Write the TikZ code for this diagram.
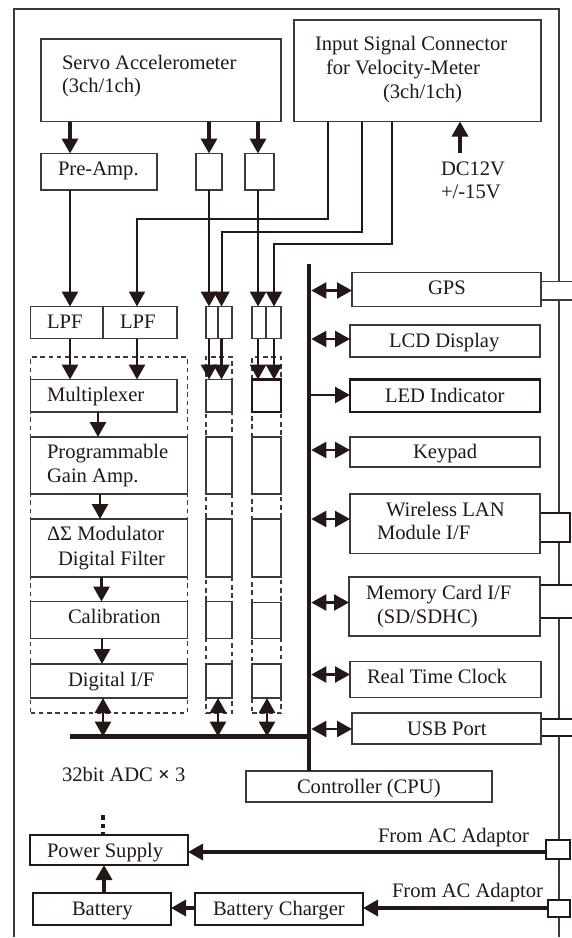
\documentclass[tikz,border=0pt]{standalone}
\usepackage{fontspec}
\setmainfont{Liberation Serif}
\usetikzlibrary{arrows.meta}
\definecolor{ink}{HTML}{231815}
\definecolor{frm}{HTML}{3E3A39}
\tikzset{
  bx/.style={draw=frm,fill=white,line width=1.5pt,inner sep=0pt,outer sep=0pt},
  thickbx/.style={bx,draw=ink,line width=2.1pt},
  dashbx/.style={bx,fill=none,line width=1.2pt,dash pattern=on 4.5pt off 3.8pt,draw=frm},
  lbl/.style={anchor=base west,inner sep=0pt,outer sep=0pt,text=ink,font=\fontsize{20.6}{24}\selectfont},
  arr/.style={draw=ink,line width=3.4pt,-{Triangle[length=15pt,width=16pt,fill=ink]}},
  arrthin/.style={draw=ink,line width=2.8pt,-{Triangle[length=15pt,width=16pt,fill=ink]}},
  sig/.style={draw=ink,line width=2pt,-{Triangle[length=15pt,width=16pt,fill=ink]}},
  dbl/.style={draw=ink,line width=2.4pt,{Triangle[length=15pt,width=16pt,fill=ink]}-{Triangle[length=15pt,width=16pt,fill=ink]}},
  dblv/.style={draw=ink,line width=2.8pt,{Triangle[length=15pt,width=16pt,fill=ink]}-{Triangle[length=15pt,width=16pt,fill=ink]}},
  bus/.style={draw=ink,line width=4.8pt},
}
\newcommand{\bxn}[6][bx]{%
  \pgfmathsetmacro{\bw}{#5-#3}\pgfmathsetmacro{\bh}{#6-#4}%
  \node[#1,minimum width=\bw pt,minimum height=\bh pt] (#2) at ({(#3+#5)/2},{(#4+#6)/2}) {};}
\newcommand{\tx}[4]{\node[lbl] (#1) at (#2,#3) {#4};}
\newcommand{\cx}[2]{\coordinate (#1) at (#2,0);}
\newcommand{\cy}[2]{\coordinate (#1) at (0,#2);}
\begin{document}
\begin{tikzpicture}[x=1pt,y=-1pt]
\useasboundingbox (0,0) rectangle (571,938);
\fill[white] (0,0) rectangle (571,938);
% enclosure
\coordinate (fbl) at (14,937);
\coordinate (ftl) at (14,8.5);
\coordinate (ftr) at (558.5,8.5);
\coordinate (fbr) at (558.5,937);
\draw[draw=frm,line width=2pt] (fbl) -- (ftl) -- (ftr) -- (fbr);
% column references
\cx{cA}{70}\cx{cB}{137}\cx{cC}{209}\cx{cD}{221.5}\cx{cE}{258}\cx{cF}{274}
\cx{cG}{328}\cx{cH}{362}\cx{cI}{392}\cx{cJ}{460}
\cx{cK}{98}\cx{cL}{100}\cx{cM}{101.5}\cx{cN}{102}\cx{cO}{103}\cx{cP}{218}\cx{cQ}{267}\cx{cR}{104}
\cy{rA}{219}\cy{rB}{232}\cy{rC}{244}
\cy{rGPS}{290.5}\cy{rLCD}{339}\cy{rLED}{395}\cy{rKEY}{450}\cy{rWL}{519}\cy{rMEM}{602.5}\cy{rRTC}{674.5}\cy{rUSB}{729}
\cy{rAC}{852}\cy{rCH}{908}
\coordinate (dcIn) at (460,153);
% dashed ADC groups
\bxn[dashbx]{adcA}{30.5}{357}{187.5}{713}
\bxn[dashbx]{adcB}{206}{357}{232}{713}
\bxn[dashbx]{adcC}{252}{357}{281}{713}
% input blocks
\bxn{servo}{41}{39}{281}{121.5}
\bxn{input}{294}{20}{541}{121.5}
\bxn{preamp}{41}{153.5}{157}{190}
\bxn{preB}{196}{153.5}{222}{190}
\bxn{preC}{245}{153.5}{274}{190}
% LPFs
\bxn{lpfA}{30.5}{306.5}{103}{338.5}
\bxn{lpfB}{103}{306.5}{177}{338.5}
\bxn{lpfC}{206}{306.5}{218}{338.5}
\bxn{lpfD}{218}{306.5}{232}{338.5}
\bxn{lpfE}{252}{306.5}{266}{338.5}
\bxn{lpfF}{266}{306.5}{281}{338.5}
% ADC stages
\bxn{mux}{30.5}{379.5}{177}{412}
\bxn{pga}{30.5}{437}{187.5}{494}
\bxn{mod}{30.5}{519}{187.5}{577}
\bxn{cal}{30.5}{601.5}{187.5}{638.5}
\bxn{dif}{30.5}{664}{187.5}{698}
\bxn{muxB}{206}{379.5}{232}{412}
\bxn{pgaB}{206}{437}{232}{494}
\bxn{modB}{206}{519}{232}{577}
\bxn{calB}{206}{601.5}{232}{638.5}
\bxn{difB}{206}{664}{232}{698}
\bxn[thickbx]{muxC}{252}{379.5}{281}{412}
\bxn{pgaC}{252}{437}{281}{494}
\bxn{modC}{252}{519}{281}{577}
\bxn{calC}{252}{602.5}{281}{638.5}
\bxn{difC}{252}{664}{281}{698}
% controller, peripherals
\bxn{cpu}{246}{771}{492}{802}
\bxn{gpsC}{541}{281.5}{574}{300}
\bxn{gps}{352}{272.5}{541}{306.5}
\bxn{lcd}{350}{325}{540}{357}
\bxn[thickbx]{led}{350}{379.5}{540}{412}
\bxn{key}{350}{437}{540}{467}
\bxn[thickbx]{wlC}{540}{513}{570}{542}
\bxn{wl}{350}{494}{540}{553.5}
\bxn[thickbx]{memC}{540}{585}{574}{618}
\bxn{mem}{349}{577}{540}{636}
\bxn{rtc}{350}{661.5}{541}{697.5}
\bxn[thickbx]{usbC}{541}{719}{574}{736}
\bxn{usb}{352}{713}{541}{744}
% power
\bxn[thickbx]{acA}{546}{840}{570}{859}
\bxn[thickbx]{acB}{548}{900}{570}{917}
\bxn[thickbx]{psu}{30}{835}{188}{865}
\bxn[thickbx]{bat}{33}{893}{171}{925}
\bxn[thickbx]{chg}{195}{893}{363}{925}
% buses
\coordinate (busH) at (70,736.5);
\coordinate (busV) at (309,264);
\draw[bus] (busV) -- (cpu.north -| busV);
\draw[bus] (busH) -- (busH -| busV);
% signal arrows
\draw[arr] (servo.south -| cA) -- (preamp.north -| cA);
\draw[arr] (servo.south -| cC) -- (preB.north -| cC);
\draw[arr] (servo.south -| cE) -- (preC.north -| cE);
\draw[arrthin] (preamp.south -| cA) -- (lpfA.north -| cA);
\draw[arrthin] (preB.south -| cC) -- (lpfC.north -| cC);
\draw[arrthin] (preC.south -| cE) -- (lpfE.north -| cE);
\draw[sig] (input.south -| cG) -- (rA -| cG) -- (rA -| cB) -- (lpfB.north -| cB);
\draw[sig] (input.south -| cH) -- (rB -| cH) -- (rB -| cD) -- (lpfD.north -| cD);
\draw[sig] (input.south -| cI) -- (rC -| cI) -- (rC -| cF) -- (lpfF.north -| cF);
\draw[arr] (dcIn) -- (input.south -| dcIn);
\draw[arrthin] (lpfA.south -| cA) -- (mux.north -| cA);
\draw[arrthin] (lpfB.south -| cB) -- (mux.north -| cB);
\draw[arrthin] (lpfC.south -| cC) -- (muxB.north -| cC);
\draw[arrthin] (lpfD.south -| cD) -- (muxB.north -| cD);
\draw[arrthin] (lpfE.south -| cE) -- (muxC.north -| cE);
\draw[arrthin] (lpfF.south -| cF) -- (muxC.north -| cF);
\draw[arrthin] (mux.south -| cK) -- (pga.north -| cK);
\draw[arrthin] (pga.south -| cL) -- (mod.north -| cL);
\draw[arrthin] (mod.south -| cM) -- (cal.north -| cM);
\draw[arrthin] (cal.south -| cN) -- (dif.north -| cN);
\draw[dblv] (dif.south -| cO) -- (busH -| cO);
\draw[dblv] (difB.south -| cP) -- (busH -| cP);
\draw[dblv] (difC.south -| cQ) -- (busH -| cQ);
% peripherals
\draw[dbl] (rGPS -| busV) ++(2.3,0) -- (gps.west |- rGPS);
\draw[dbl] (rLCD -| busV) ++(2.3,0) -- (lcd.west |- rLCD);
\draw[arr,line width=2.2pt] (rLED -| busV) ++(2.3,0) -- (led.west |- rLED);
\draw[dbl] (rKEY -| busV) ++(2.3,0) -- (key.west |- rKEY);
\draw[dbl] (rWL -| busV) ++(2.3,0) -- (wl.west |- rWL);
\draw[dbl] (rMEM -| busV) ++(2.3,0) -- (mem.west |- rMEM);
\draw[dbl] (rRTC -| busV) ++(2.3,0) -- (rtc.west |- rRTC);
\draw[dbl] (rUSB -| busV) ++(2.3,0) -- (usb.west |- rUSB);
% power arrows
\draw[arr] (acA.west |- rAC) -- (psu.east |- rAC);
\draw[arr] (acB.west |- rCH) -- (chg.east |- rCH);
\draw[arr] (chg.west |- rCH) -- (bat.east |- rCH);
\draw[arr] (bat.north -| cR) -- (psu.south -| cR);
\coordinate (dots) at (103,815);
\draw[draw=ink,line width=4pt,dash pattern=on 4.5pt off 4pt] (dots) -- (psu.north -| dots);
% labels
\tx{tServoA}{62}{69}{Servo Accelerometer}
\tx{tServoB}{62}{92}{(3ch/1ch)}
\tx{tInA}{315}{50}{Input Signal Connector}
\tx{tInB}{326}{74}{for Velocity-Meter}
\tx{tInC}{383}{98}{(3ch/1ch)}
\tx{tDCa}{441}{175.5}{DC12V}
\tx{tDCb}{441}{198}{+/-15V}
\tx{tPre}{58}{175}{Pre-Amp.}
\tx{tLa}{47}{328}{LPF}
\tx{tLb}{120}{328}{LPF}
\tx{tMux}{47}{401}{Multiplexer}
\tx{tPgaA}{47}{458}{Programmable}
\tx{tPgaB}{47}{482.5}{Gain Amp.}
\tx{tModA}{47}{540.5}{ΔΣ Modulator}
\tx{tModB}{58}{565}{Digital Filter}
\tx{tCal}{68}{623}{Calibration}
\tx{tDif}{68}{686}{Digital I/F}
\tx{tAdc}{62}{781}{32bit ADC \textbf{×} 3}
\tx{tCpu}{297}{793}{Controller (CPU)}
\tx{tPsu}{47}{857}{Power Supply}
\tx{tBat}{72}{915}{Battery}
\tx{tChg}{213}{915}{Battery Charger}
\tx{tGps}{428}{294}{GPS}
\tx{tLcd}{389}{347}{LCD Display}
\tx{tLed}{385}{402}{LED Indicator}
\tx{tKey}{413}{458}{Keypad}
\tx{tWlA}{386}{516}{Wireless LAN}
\tx{tWlB}{377}{539}{Module I/F}
\tx{tMemA}{366}{599}{Memory Card I/F}
\tx{tMemB}{377}{623}{(SD/SDHC)}
\tx{tRtc}{367}{683}{Real Time Clock}
\tx{tUsb}{407}{735}{USB Port}
\tx{tAcA}{378}{842}{From AC Adaptor}
\tx{tAcB}{392}{897}{From AC Adaptor}
\end{tikzpicture}
\end{document}
